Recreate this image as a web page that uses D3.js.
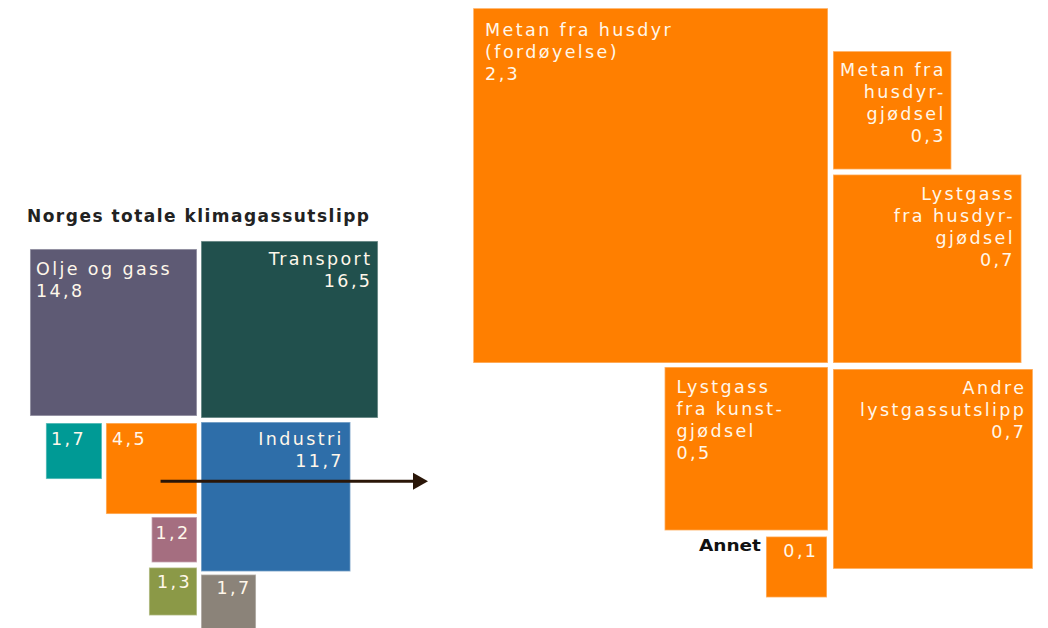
<!DOCTYPE html>
<html>
<head>
<meta charset="utf-8">
<script src="https://cdn.jsdelivr.net/npm/d3@7"></script>
<style>
  html, body { margin: 0; padding: 0; background: #fff; }
  svg { display: block; }
</style>
</head>
<body>
<svg id="chart" width="1048" height="628"></svg>
<script>
// ---- data: Norway's total greenhouse gas emissions (left) ----
const leftCategories = ["Olje og gass", "Transport", "Industri", "", "", "", "", ""];
const leftLabels     = ["14,8", "16,5", "11,7", "4,5", "1,7", "1,2", "1,3", "1,7"];
const leftValues     = [14.74, 16.56, 11.81, 4.38, 1.66, 1.09, 1.22, 1.60];
const leftColors     = ["#5e5a74", "#21504d", "#2e6ea9", "#ff7f00", "#009a95", "#a56e80", "#8b9947", "#8b8379"];

// ---- data: agriculture breakdown (right) ----
const rightCategories = ["Metan fra husdyr\n(fordøyelse)", "Lystgass\nfra husdyr-\ngjødsel", "Metan fra\nhusdyr-\ngjødsel", "Lystgass\nfra kunst-\ngjødsel", "Andre\nlystgassutslipp", ""];
const rightLabels     = ["2,3", "0,7", "0,3", "0,5", "0,7", "0,1"];
const rightValues     = [2.30, 0.649, 0.256, 0.488, 0.730, 0.068];

const title = "Norges totale klimagassutslipp";
const annetLabel = "Annet";

// ---- layout ----
const svg = d3.select("#chart");
const sideL = d3.scaleSqrt().domain([0, 1]).range([0, 43.5]);
const sideR = d3.scaleSqrt().domain([0, 1]).range([0, 234]);

const pL = {x: 199, y: 420};
const pR = {x: 830.5, y: 365};

const sL = leftValues.map(v => sideL(v));
const rl = [];
rl[0] = {x: pL.x - 2 - sL[0], y: pL.y - 4 - sL[0]};               // Olje og gass
rl[1] = {x: pL.x + 2, y: pL.y - 2 - sL[1]};                       // Transport
rl[2] = {x: pL.x + 2, y: pL.y + 2};                               // Industri
rl[3] = {x: pL.x - 2 - sL[3], y: pL.y + 3};                       // 4,5
rl[4] = {x: rl[3].x - 4 - sL[4], y: pL.y + 3};                    // 1,7 teal
rl[5] = {x: pL.x - 2 - sL[5], y: rl[3].y + sL[3] + 3};            // 1,2
rl[6] = {x: pL.x - 2 - sL[6], y: rl[5].y + sL[5] + 5};            // 1,3
rl[7] = {x: pL.x + 2, y: rl[2].y + sL[2] + 3};                    // 1,7 gray
const leftAlign = ["start", "end", "end", "start", "start", "start", "start", "end"];
const leftPad   = [6, 8, 9, 6, 5, 4, 8, 7];
const leftBase  = [26, 24, 23, 22, 22, 22, 21, 20];

const sR = rightValues.map(v => sideR(v));
const rr = [];
rr[0] = {x: pR.x - 2.5 - sR[0], y: pR.y - 2 - sR[0]};             // Metan husdyr
rr[1] = {x: pR.x + 2.5, y: pR.y - 2 - sR[1]};                     // Lystgass husdyrgjødsel
rr[2] = {x: pR.x + 2.5, y: rr[1].y - 5 - sR[2]};                  // Metan husdyrgjødsel
rr[3] = {x: pR.x - 2.5 - sR[3], y: pR.y + 2};                     // Lystgass kunstgjødsel
rr[4] = {x: pR.x + 2.5, y: pR.y + 4};                             // Andre
rr[5] = {x: pR.x - 3.5 - sR[5], y: rr[3].y + sR[3] + 6};          // Annet
const rightAlign = ["start", "end", "end", "start", "end", "end"];
const rightPad   = [12, 9, 8, 12, 9, 11];
const rightBase  = [28, 26, 25, 26, 25, 21];

const textColor = "#fff7ea";
const fontFam = "'DejaVu Sans', sans-serif";
const ls = 2.4;

function drawGroup(rects, sizes, colors, cats, labels, align, pad, base, cls) {
  const data = rects.map((r, i) => ({...r, s: sizes[i], c: colors[i], cat: cats[i], lab: labels[i], a: align[i], p: pad[i], b: base[i]}));
  const g = svg.append("g").attr("class", cls);
  g.selectAll("rect").data(data).join("rect")
    .attr("x", d => d.x).attr("y", d => d.y)
    .attr("width", d => d.s).attr("height", d => d.s)
    .attr("fill", d => d.c)
    .attr("stroke", "rgba(255,255,255,0.45)").attr("stroke-width", 1.5);
  const tx = d => d.a === "start" ? d.x + d.p : d.x + d.s - d.p + ls;
  const t = g.selectAll("text").data(data).join("text")
    .attr("x", tx)
    .attr("y", d => d.y + d.b)
    .attr("text-anchor", d => d.a)
    .attr("fill", textColor)
    .attr("font-family", fontFam)
    .attr("font-size", 17.5)
    .attr("letter-spacing", ls);
  t.each(function(d) {
    const lines = (d.cat ? d.cat.split("\n") : []).concat([d.lab]);
    d3.select(this).selectAll("tspan").data(lines).join("tspan")
      .attr("x", tx(d))
      .attr("dy", (l, i) => i === 0 ? 0 : 22)
      .text(l => l);
  });
}

drawGroup(rl, sL, leftColors, leftCategories, leftLabels, leftAlign, leftPad, leftBase, "left");
drawGroup(rr, sR, rightValues.map(() => "#ff7f00"), rightCategories, rightLabels, rightAlign, rightPad, rightBase, "right");

// title
svg.append("text")
  .attr("x", 27).attr("y", 222)
  .attr("font-family", fontFam).attr("font-weight", "bold")
  .attr("font-size", 17).attr("fill", "#222")
  .attr("textLength", 342).attr("lengthAdjust", "spacing")
  .text(title);

// Annet label
svg.append("text")
  .attr("x", rr[5].x - 5).attr("y", rr[5].y + 15)
  .attr("text-anchor", "end")
  .attr("font-family", fontFam).attr("font-weight", "bold")
  .attr("font-size", 16).attr("fill", "#111")
  .attr("textLength", 62).attr("lengthAdjust", "spacingAndGlyphs")
  .text(annetLabel);

// arrow from the agriculture square (4,5) to the right breakdown
const arrowY = rl[3].y + sL[3] * 0.64;
const ax0 = rl[3].x + sL[3] * 0.6;
const ax1 = 428;
svg.append("line")
  .attr("x1", ax0).attr("y1", arrowY).attr("x2", ax1 - 12).attr("y2", arrowY)
  .attr("stroke", "#2a1608").attr("stroke-width", 3);
svg.append("path")
  .attr("d", `M${ax1 - 15},${arrowY - 8.5} L${ax1},${arrowY} L${ax1 - 15},${arrowY + 8.5} Z`)
  .attr("fill", "#2a1608");
</script>
</body>
</html>
